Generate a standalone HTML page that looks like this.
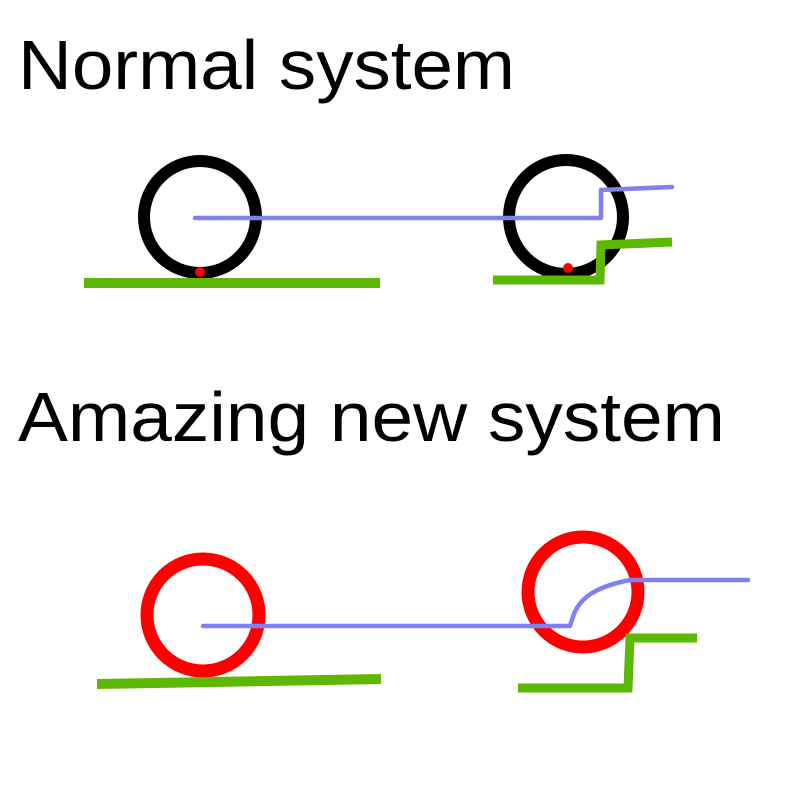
<!DOCTYPE html>
<html><head><style>
html,body{margin:0;padding:0;background:#fff;}
svg{display:block}
</style></head><body>
<svg width="800" height="800" viewBox="0 0 800 800" xmlns="http://www.w3.org/2000/svg">
<rect width="800" height="800" fill="#fff"/>
<text x="18" y="89" font-family="Liberation Sans, sans-serif" font-size="70" fill="#000" textLength="497" lengthAdjust="spacingAndGlyphs">Normal system</text>
<text x="18" y="441" font-family="Liberation Sans, sans-serif" font-size="70" fill="#000" textLength="707" lengthAdjust="spacingAndGlyphs">Amazing new system</text>

<!-- top left -->
<circle cx="200" cy="217" r="56" fill="none" stroke="#000" stroke-width="12"/>
<line x1="84" y1="283" x2="380" y2="283" stroke="#5cb800" stroke-width="10"/>
<circle cx="200" cy="272" r="5" fill="#f00"/>
<!-- top right -->
<circle cx="566" cy="217" r="57" fill="none" stroke="#000" stroke-width="12"/>
<circle cx="568" cy="268" r="5" fill="#f00"/>
<polyline points="493,280 600,280 601,245 672,242" fill="none" stroke="#5cb800" stroke-width="9"/>
<polyline points="195,218 601,218 601,190 672,187" fill="none" stroke="#8080f0" stroke-width="4.5" stroke-linecap="round" stroke-linejoin="round"/>

<!-- bottom left -->
<circle cx="203" cy="615" r="56" fill="none" stroke="#f00" stroke-width="13"/>
<line x1="97" y1="684" x2="381" y2="679" stroke="#5cb800" stroke-width="10"/>
<!-- bottom right -->
<circle cx="583" cy="592" r="55" fill="none" stroke="#f00" stroke-width="13"/>
<polyline points="518,688 628,688 630,638 697,638" fill="none" stroke="#5cb800" stroke-width="9"/>
<path d="M203,626 L570,626 C575,610 578,590 630,580 L748,580" fill="none" stroke="#8080f0" stroke-width="4.5" stroke-linecap="round" stroke-linejoin="round"/>
</svg>
</body></html>
